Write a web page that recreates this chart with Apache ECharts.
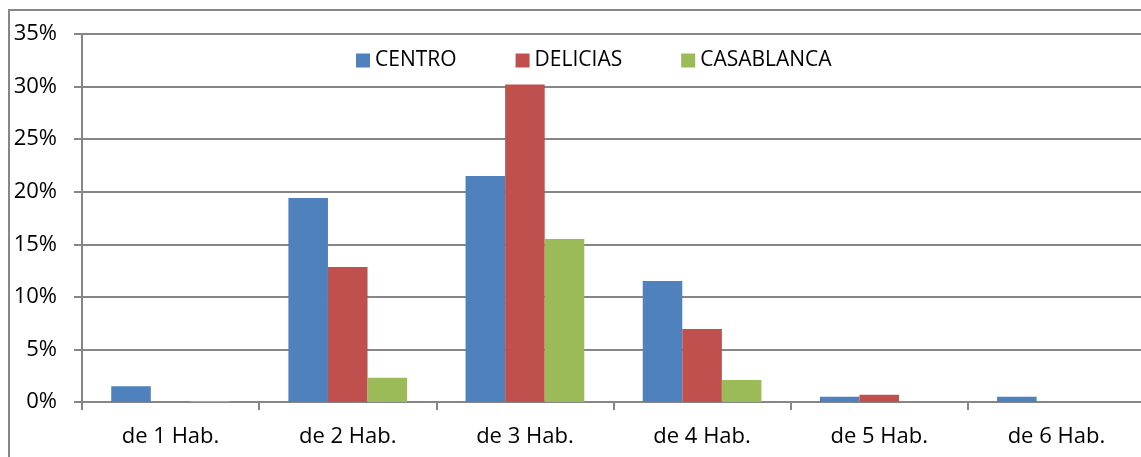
<!DOCTYPE html>
<html>
<head>
<meta charset="utf-8">
<script src="https://cdn.jsdelivr.net/npm/echarts@6/dist/echarts.min.js"></script>
<style>
  html, body { margin: 0; padding: 0; background: #fff; overflow: hidden; }
  #frame {
    position: absolute; left: 8px; top: 9px; width: 1150px; height: 460px;
    border-left: 2px solid #868686; border-top: 2px solid #868686;
  }
  #chart { position: absolute; left: 0; top: 0; width: 1145px; height: 457px; }
</style>
</head>
<body>
<div id="frame"></div>
<div id="chart"></div>
<script>
// categorías
const categories = ['de 1 Hab.', 'de 2 Hab.', 'de 3 Hab.', 'de 4 Hab.', 'de 5 Hab.', 'de 6 Hab.'];
// porcentajes por barrio
const centro = [1.5, 19.4, 21.5, 11.5, 0.5, 0.5];
const delicias = [0, 12.85, 30.2, 6.95, 0.7, 0];
const casablanca = [0.1, 2.3, 15.5, 2.1, 0, 0];

const axisColor = '#868686';
const font = 'Open Sans';

const chart = echarts.init(document.getElementById('chart'));

chart.setOption({
  animation: false,
  textStyle: { fontFamily: font },
  legend: {
    top: 45,
    left: 351,
    itemWidth: 14,
    itemHeight: 14,
    itemGap: 59,
    icon: 'rect',
    textStyle: { fontSize: 21, color: '#000', fontFamily: font }
  },
  grid: { left: 82, right: 0, top: 34, bottom: 55 },
  xAxis: {
    type: 'category',
    data: categories,
    axisLine: { lineStyle: { color: axisColor, width: 2 } },
    axisTick: { show: true, length: 8, lineStyle: { color: axisColor, width: 2 } },
    axisLabel: { color: '#000', fontSize: 22, margin: 24, fontFamily: font }
  },
  yAxis: {
    type: 'value',
    min: 0,
    max: 35,
    interval: 5,
    axisLine: { show: true, lineStyle: { color: axisColor, width: 2 } },
    axisTick: { show: true, length: 8, lineStyle: { color: axisColor, width: 2 } },
    splitLine: { lineStyle: { color: axisColor, width: 2 } },
    axisLabel: { color: '#000', fontSize: 22, margin: 25, formatter: '{value}%', fontFamily: font }
  },
  series: [
    { name: 'CENTRO', type: 'bar', data: centro, itemStyle: { color: '#4F81BD' }, barGap: '0%', barCategoryGap: '33%' },
    { name: 'DELICIAS', type: 'bar', data: delicias, itemStyle: { color: '#C0504D' } },
    { name: 'CASABLANCA', type: 'bar', data: casablanca, itemStyle: { color: '#9BBB59' } }
  ]
});
</script>
</body>
</html>
